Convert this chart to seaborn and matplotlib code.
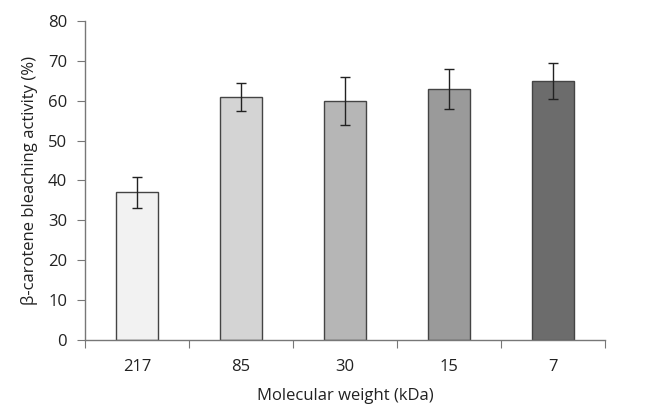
import numpy as np
import pandas as pd
import matplotlib
matplotlib.use("Agg")
import matplotlib.pyplot as plt
import seaborn as sns

# data
weights = ["217", "85", "30", "15", "7"]
activity = [37, 61, 60, 63, 65]
errors = [4, 3.5, 6, 5, 4.5]
colors = ["#f2f2f2", "#d4d4d4", "#b6b6b6", "#9a9a9a", "#6c6c6c"]

sns.set_style("white")
plt.rcParams["font.family"] = ["Open Sans", "DejaVu Sans"]

df = pd.DataFrame({"weight": weights, "activity": activity})

fig = plt.figure(figsize=(6.66, 4.08), dpi=100)
ax = fig.add_axes([0.128, 0.1667, 0.78, 0.7818])

sns.barplot(data=df, x="weight", y="activity", hue="weight", palette=colors,
            legend=False, width=0.4, edgecolor="#444444", linewidth=1, ax=ax)
ax.errorbar(np.arange(len(weights)), activity, yerr=errors, fmt="none",
            ecolor="#222222", elinewidth=1, capsize=3.5, capthick=1)

ax.set_xlim(-0.5, len(weights) - 0.5)
ax.set_ylim(0, 80)
ax.set_yticks(range(0, 81, 10))
# tick marks sit between the categories, labels under the bars
ax.set_xticks(np.arange(-0.5, len(weights), 1))
ax.set_xticklabels([])
ax.set_xticks(np.arange(len(weights)), minor=True)
ax.set_xticklabels(weights, minor=True)
ax.tick_params(axis="x", which="major", length=6, color="#777777", direction="out", bottom=True)
ax.tick_params(axis="x", which="minor", length=0, pad=14, labelsize=12, labelcolor="#222222")
ax.tick_params(axis="y", length=6, color="#777777", direction="out", left=True,
               labelsize=12, labelcolor="#222222", pad=7)

for side in ["top", "right"]:
    ax.spines[side].set_visible(False)
for side in ["left", "bottom"]:
    ax.spines[side].set_color("#777777")
    ax.spines[side].set_linewidth(1)

ax.set_xlabel("Molecular weight (kDa)", fontsize=12, color="#222222", labelpad=9)
ax.set_ylabel("β-carotene bleaching activity (%)", fontsize=12, color="#222222", labelpad=7)

fig.savefig("out.png", dpi=100)
